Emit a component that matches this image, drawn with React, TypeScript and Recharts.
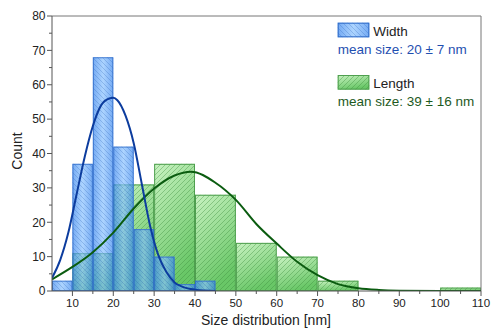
import React from 'react';
import { ComposedChart, XAxis, YAxis, Line, ReferenceArea, ReferenceLine } from 'recharts';

// Histogram: particle width (5 nm bins)
const widthBinStart = [5, 10, 15, 20, 25, 30, 35, 40];
const widthCounts = [3, 37, 68, 42, 18, 10, 2, 3];
const widthBinSize = 5;

// Histogram: particle length (10 nm bins)
const lengthBinStart = [10, 20, 30, 40, 50, 60, 70, 100];
const lengthCounts = [11, 31, 37, 28, 14, 10, 3, 1];
const lengthBinSize = 10;

// Fitted curves
const widthFitX = [5, 7, 9, 11, 13, 15, 17, 19, 20, 21, 23, 25, 27, 29, 31, 33, 35, 37, 40, 45];
const widthFitY = [3.8, 9, 17, 28, 39, 48, 54, 56, 56.2, 55.5, 51, 43, 31, 19, 10.5, 5.5, 2.5, 1.2, 0.4, 0];
const lengthFitX = [5, 10, 15, 20, 25, 30, 35, 39, 45, 50, 55, 60, 65, 70, 75, 80, 85, 90, 100, 110];
const lengthFitY = [3.4, 7, 11.3, 17, 24, 29.8, 33.6, 34.7, 31.5, 26.5, 19.5, 13.8, 8.5, 4.6, 2, 0.8, 0.3, 0.1, 0, 0];

const xTicks = [10, 15, 20, 25, 30, 35, 40, 45, 50, 55, 60, 65, 70, 75, 80, 85, 90, 95, 100, 105, 110];
const yTicks = [0, 5, 10, 15, 20, 25, 30, 35, 40, 45, 50, 55, 60, 65, 70, 75, 80];

const widthFit = widthFitX.map((x, i) => ({ x, y: widthFitY[i] }));
const lengthFit = lengthFitX.map((x, i) => ({ x, y: lengthFitY[i] }));

const FONT = '"Liberation Sans", Arial, sans-serif';
const AXIS = '#555';

const XTick = (props: any) => {
  const { x, y, payload } = props;
  const v = payload.value;
  const major = v % 10 === 0;
  return (
    <g>
      <line x1={x} x2={x} y1={y} y2={y + (major ? 5 : 3)} stroke={AXIS} strokeWidth={1} />
      {major && (
        <text x={x} y={y + 16.3} textAnchor="middle" fontSize={11.5} fill="#222" fontFamily={FONT}>
          {v}
        </text>
      )}
    </g>
  );
};

const YTick = (props: any) => {
  const { x, y, payload } = props;
  const v = payload.value;
  const major = v % 10 === 0;
  return (
    <g>
      <line x1={x} x2={x - (major ? 5 : 3)} y1={y} y2={y} stroke={AXIS} strokeWidth={1} />
      {major && (
        <text x={x - 6.5} y={y + 4.3} textAnchor="end" fontSize={12} fill="#222" fontFamily={FONT}>
          {v}
        </text>
      )}
    </g>
  );
};

const WidthBar = (p: any) => {
  const { x, y, width, height } = p;
  if (width == null || height == null) return null;
  return (
    <g>
      <rect x={x} y={y} width={width} height={height} fill="url(#blueGrad)" fillOpacity={0.68} />
      <rect x={x} y={y} width={width} height={height} fill="url(#blueHatch)" />
      <rect x={x + 0.5} y={y + 0.5} width={Math.max(0, width - 1)} height={Math.max(0, height - 1)} fill="none" stroke="#2f6cc8" strokeOpacity={0.8} strokeWidth={1} />
    </g>
  );
};

const LengthBar = (p: any) => {
  const { x, y, width, height } = p;
  if (width == null || height == null) return null;
  return (
    <g>
      <rect x={x} y={y} width={width} height={height} fill="url(#greenGrad)" fillOpacity={0.92} />
      <rect x={x} y={y} width={width} height={height} fill="url(#greenHatch)" />
      <rect x={x + 0.5} y={y + 0.5} width={Math.max(0, width - 1)} height={Math.max(0, height - 1)} fill="none" stroke="#4f9f4f" strokeWidth={1} />
    </g>
  );
};

export default function App() {
  return (
    <div style={{ position: 'relative', width: 491, height: 328, overflow: 'hidden' }}>
      <style>{'body{margin:0}.recharts-surface{overflow:visible}'}</style>
      <svg width={0} height={0} style={{ position: 'absolute' }}>
        <defs>
          <linearGradient id="blueGrad" x1="0" y1="0" x2="1" y2="0">
            <stop offset="0%" stopColor="#3282ee" />
            <stop offset="50%" stopColor="#86c0ff" />
            <stop offset="100%" stopColor="#3282ee" />
          </linearGradient>
          <linearGradient id="greenGrad" x1="0" y1="0" x2="0.4" y2="1">
            <stop offset="0%" stopColor="#c4f2bc" />
            <stop offset="100%" stopColor="#5cc25a" />
          </linearGradient>
          <pattern id="blueHatch" patternUnits="userSpaceOnUse" width={5} height={5}>
            <path d="M0,0 L5,5 M-1,4 L1,6 M4,-1 L6,1" stroke="#1f55a8" strokeWidth={0.6} strokeOpacity={0.4} />
          </pattern>
          <pattern id="greenHatch" patternUnits="userSpaceOnUse" width={5} height={5}>
            <path d="M0,5 L5,0 M-1,1 L1,-1 M4,6 L6,4" stroke="#3b8a3b" strokeWidth={0.7} strokeOpacity={0.55} />
          </pattern>
        </defs>
      </svg>
      <ComposedChart width={491} height={328} margin={{ top: 16, right: 10, left: 8, bottom: 0 }}>
        <XAxis
          dataKey="x"
          type="number"
          domain={[5, 110]}
          ticks={xTicks}
          interval={0}
          allowDataOverflow
          tickSize={0}
          tickMargin={0}
          tickLine={false}
          tick={<XTick />}
          axisLine={{ stroke: AXIS }}
          height={37}
        />
        <YAxis
          type="number"
          domain={[0, 80]}
          ticks={yTicks}
          interval={0}
          allowDataOverflow
          tickSize={0}
          tickMargin={0}
          tickLine={false}
          tick={<YTick />}
          axisLine={{ stroke: AXIS }}
          width={44}
        />
        <ReferenceLine y={80} stroke="#777" strokeWidth={1} />
        <ReferenceLine x={110} stroke="#777" strokeWidth={1} />
        {lengthBinStart.map((s, i) => (
          <ReferenceArea
            key={'l' + i}
            x1={s}
            x2={s + lengthBinSize}
            y1={0}
            y2={lengthCounts[i]}
            shape={(p: any) => <LengthBar {...p} />}
          />
        ))}
        {widthBinStart.map((s, i) => (
          <ReferenceArea
            key={'w' + i}
            x1={s}
            x2={s + widthBinSize}
            y1={0}
            y2={widthCounts[i]}
            shape={(p: any) => <WidthBar {...p} />}
          />
        ))}
        <Line data={lengthFit} dataKey="y" type="monotone" stroke="#0b5c10" strokeWidth={2} dot={false} isAnimationActive={false} />
        <Line data={widthFit} dataKey="y" type="monotone" stroke="#0c3c9e" strokeWidth={2} dot={false} isAnimationActive={false} />
      </ComposedChart>
      <svg width={491} height={328} style={{ position: 'absolute', left: 0, top: 0, pointerEvents: 'none' }}>
        <text x={17} y={151} transform="rotate(-90 17 151)" textAnchor="middle" dominantBaseline="central" fontSize={14} fill="#222" fontFamily={FONT}>
          Count
        </text>
        <text x={266} y={324.5} textAnchor="middle" fontSize={14} fill="#222" fontFamily={FONT}>
          Size distribution [nm]
        </text>
        <rect x={337.7} y={22.7} width={31.6} height={14.6} fill="url(#blueGrad)" fillOpacity={0.68} />
        <rect x={337.7} y={22.7} width={31.6} height={14.6} fill="url(#blueHatch)" />
        <rect x={338.2} y={23.2} width={30.6} height={13.6} fill="none" stroke="#2f6cc8" />
        <text x={373.3} y={35.5} fontSize={13.5} fill="#222" fontFamily={FONT}>Width</text>
        <text x={337.7} y={54} fontSize={13.5} fill="#1f4fb0" fontFamily={FONT}>mean size: 20 ± 7 nm</text>
        <rect x={337.7} y={75} width={31.6} height={14.6} fill="url(#greenGrad)" fillOpacity={0.92} />
        <rect x={337.7} y={75} width={31.6} height={14.6} fill="url(#greenHatch)" />
        <rect x={338.2} y={75.5} width={30.6} height={13.6} fill="none" stroke="#4f9f4f" />
        <text x={373.3} y={87.8} fontSize={13.5} fill="#222" fontFamily={FONT}>Length</text>
        <text x={337.7} y={105.5} fontSize={13.5} fill="#1e5a1e" fontFamily={FONT}>mean size: 39 ± 16 nm</text>
      </svg>
    </div>
  );
}
